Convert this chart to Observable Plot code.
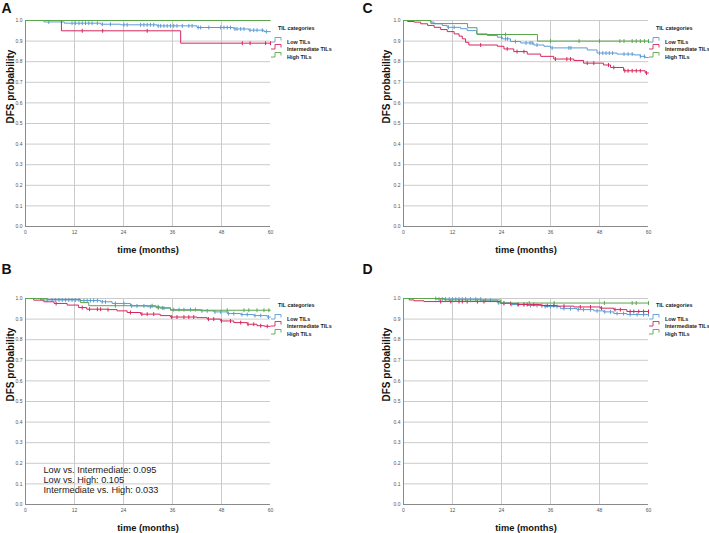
<!DOCTYPE html>
<html><head><meta charset="utf-8">
<script src="https://cdn.jsdelivr.net/npm/d3@7"></script>
<script src="https://cdn.jsdelivr.net/npm/@observablehq/plot@0.6"></script>
<style>
html,body{margin:0;padding:0;background:#fff;}
#root{position:relative;width:709px;height:533px;overflow:hidden;font-family:"Liberation Sans",Arial,sans-serif;background:#fff;}
.panel{position:absolute;}
.legend{position:absolute;font-size:5.4px;font-weight:bold;color:#222;white-space:nowrap;}
.legend div{position:absolute;white-space:nowrap;line-height:6px;}
.legend svg{position:absolute;overflow:visible;}
</style></head><body><div id="root"></div>
<script>
// ---------- data ----------
const xTicks = [0, 12, 24, 36, 48, 60];
const yTicks = [0, 0.1, 0.2, 0.3, 0.4, 0.5, 0.6, 0.7, 0.8, 0.9, 1.0];
const groupNames = ["Low TILs", "Intermediate TILs", "High TILs"];
const legendTitle = "TIL categories";
const panelLetters = ["A", "B", "C", "D"];
const yLabel = "DFS probability";
const xLabel = "time (months)";
const pValueLines = ["Low vs. Intermediate: 0.095", "Low vs. High: 0.105", "Intermediate vs. High: 0.033"];

// Panel A
const A_low_t = [0, 4.5, 9.5, 18.4, 23.3, 32.2, 42, 51, 54.7, 58.4, 60];
const A_low_s = [1, 0.993, 0.987, 0.982, 0.979, 0.974, 0.966, 0.959, 0.953, 0.946, 0.946];
const A_low_c = [5.7, 8.8, 11.4, 12.2, 13.1, 13.9, 14.7, 15.5, 16.3, 17.6, 18.8, 20.8, 24.1, 24.9, 28.2, 29, 29.8, 30.6, 31.4, 32.5, 33.1, 33.9, 34.7, 35.5, 36.3, 37.1, 38.4, 40, 40.8, 42.3, 42.9, 44.9, 47.8, 48.6, 49.4, 50.2, 51.3, 51.8, 52.7, 53.5, 55, 55.9, 56.7, 58, 59];
const A_int_t = [0, 8.8, 38, 60];
const A_int_s = [1, 0.95, 0.89, 0.89];
const A_int_c = [13.9, 18.9, 29.8, 53.1, 55, 58.8, 60];
const A_high_t = [0, 60];
const A_high_s = [1, 1];
const A_high_c = [];

// Panel B
const B_low_t = [0, 3.7, 13.5, 18.4, 21.2, 25.7, 29.8, 33, 35.5, 42.9, 46.1, 49.4, 52.7, 55.9, 59.2, 60];
const B_low_s = [1, 0.993, 0.99, 0.984, 0.976, 0.964, 0.96, 0.953, 0.946, 0.94, 0.935, 0.927, 0.922, 0.917, 0.91, 0.91];
const B_low_c = [5.3, 6.5, 7.3, 8.2, 9, 9.8, 10.6, 11.4, 12.2, 13.1, 14.3, 15.1, 15.9, 16.7, 17.6, 18.8, 19.6, 22, 24.1, 26, 27.3, 29, 30.6, 32.5, 33.9, 36.3, 37.6, 38.8, 40.4, 41.6, 43.2, 44.5, 46.4, 47.8, 49.7, 51, 53, 54.3, 56.2, 57.6, 59.5];
const B_int_t = [0, 2, 4.5, 7, 10.2, 13, 15, 20, 22.4, 24.9, 28.2, 33, 35.5, 42, 44.5, 47.8, 51, 54.3, 56.7, 58.5, 60];
const B_int_s = [1, 0.992, 0.984, 0.976, 0.968, 0.956, 0.948, 0.946, 0.94, 0.932, 0.924, 0.917, 0.91, 0.907, 0.9, 0.891, 0.883, 0.875, 0.868, 0.865, 0.865];
const B_int_c = [7.5, 13.9, 15.7, 17.6, 18.4, 20.2, 25.7, 28.5, 29.8, 31.4, 35.8, 37.1, 38.8, 40, 41.2, 44.8, 46.1, 48, 50.2, 52.7, 54.5, 55.9, 57.6, 59.2];
const B_high_t = [0, 5.3, 13.5, 15.5, 32, 35.5, 60];
const B_high_s = [1, 0.995, 0.98, 0.965, 0.955, 0.943, 0.943];
const B_high_c = [22, 31, 32.5, 33.5, 49.4, 53.5, 54.7, 56.7, 58.4, 59.6];

// Panel C
const C_low_t = [0, 6.7, 7.5, 9.5, 10.7, 14, 15.6, 17.9, 20.5, 23, 24.2, 26.2, 28.7, 31.9, 34.4, 36, 45, 47.4, 52.3, 56.4, 58, 59.2, 60];
const C_low_s = [1, 0.992, 0.984, 0.976, 0.967, 0.96, 0.951, 0.935, 0.927, 0.919, 0.911, 0.898, 0.891, 0.881, 0.875, 0.867, 0.857, 0.842, 0.837, 0.833, 0.826, 0.82, 0.82];
const C_low_c = [11, 12.4, 24, 25, 25.5, 27.4, 30, 31, 31.5, 32.7, 36.4, 40.5, 41, 48, 48.8, 49.6, 50.4, 51.2, 54, 55, 56, 58, 59];
const C_int_t = [0, 1, 2.6, 4.2, 5.9, 7.5, 9.1, 10.7, 12.4, 13.6, 14.4, 15.2, 16, 23, 24.6, 27, 30.3, 33.6, 36.8, 41.7, 44.1, 49, 50.7, 53.9, 59.2, 60];
const C_int_s = [1, 0.995, 0.992, 0.984, 0.976, 0.967, 0.956, 0.946, 0.935, 0.924, 0.911, 0.894, 0.881, 0.875, 0.862, 0.849, 0.837, 0.826, 0.813, 0.806, 0.793, 0.784, 0.772, 0.756, 0.745, 0.745];
const C_int_c = [18.9, 25.4, 27.8, 29.5, 37.2, 40, 40.9, 45, 46.6, 50.2, 51.5, 54.2, 55, 56, 57, 58, 59.5];
const C_high_t = [0, 6.7, 15.7, 18, 32.8, 60];
const C_high_s = [1, 0.985, 0.965, 0.932, 0.9, 0.9];
const C_high_c = [25, 36, 43, 48, 53, 54, 56, 57, 58, 59, 60];

// Panel D
const D_low_t = [0, 8, 19, 23, 26.2, 30.3, 34.4, 38.4, 42.5, 46.6, 49, 51.5, 54.7, 60];
const D_low_s = [1, 0.997, 0.992, 0.979, 0.971, 0.966, 0.961, 0.951, 0.946, 0.94, 0.935, 0.927, 0.922, 0.922];
const D_low_c = [7.9, 8.7, 9.5, 10.3, 11.2, 12, 12.8, 13.6, 14.4, 15.2, 16.4, 17.7, 18.9, 20.1, 21.3, 23.3, 24.6, 26.5, 27.9, 29.5, 31.1, 32.7, 34.7, 36, 37.6, 39.3, 40.9, 42.8, 44.1, 45.8, 47.4, 49.3, 50.7, 52.3, 53.9, 55.5, 57.2, 58.8, 60];
const D_int_t = [0, 1.4, 2.6, 5, 23.8, 27.9, 33.6, 37.6, 41.7, 48.2, 51.5, 54.7, 60];
const D_int_s = [1, 0.993, 0.989, 0.985, 0.976, 0.971, 0.966, 0.963, 0.959, 0.953, 0.946, 0.937, 0.937];
const D_int_c = [9.1, 11.6, 13.6, 14.4, 15.6, 18.1, 19.7, 24.6, 26.2, 28.2, 29.5, 30.3, 31.9, 33.9, 35.2, 36.8, 39.3, 43.3, 45.8, 48.5, 51.8, 53.1, 55.5, 56.4, 57.6, 58.8, 60];
const D_high_t = [0, 10, 23.8, 60];
const D_high_s = [1, 0.993, 0.978, 0.978];
const D_high_c = [30.8, 36.9, 49.2, 56, 57, 60];

// ---------- helpers ----------
const colors = ["#5B9BD5", "#D6275C", "#5AA64C"];
function stepAt(t, s, x) { let v = s[0]; for (let i = 0; i < t.length; i++) if (t[i] <= x) v = s[i]; return v; }
function rows(t, s) { return t.map((d, i) => ({t: d, s: s[i]})); }
function cens(c, t, s) { return c.map(d => ({t: d, s: stepAt(t, s, d)})); }
const tickSym = { draw(ctx, size) { const r = Math.sqrt(size) / 2; ctx.moveTo(0, -r); ctx.lineTo(0, r); } };

const panels = [
  {letter: panelLetters[0], groups: [[A_low_t, A_low_s, A_low_c], [A_int_t, A_int_s, A_int_c], [A_high_t, A_high_s, A_high_c]],
   left: 0, top: 0, h: 265, ml: 25, mr: 84, mt: 20, mb: 39, letterDx: -24, letterDy: -17, labelDx: -15, pv: false, legX: 270, legY: 28},
  {letter: panelLetters[1], groups: [[B_low_t, B_low_s, B_low_c], [B_int_t, B_int_s, B_int_c], [B_high_t, B_high_s, B_high_c]],
   left: 0, top: 260, h: 273, ml: 25, mr: 84, mt: 38, mb: 29, letterDx: -24, letterDy: -34, labelDx: -15, pv: true, legX: 270, legY: 305},
  {letter: panelLetters[2], groups: [[C_low_t, C_low_s, C_low_c], [C_int_t, C_int_s, C_int_c], [C_high_t, C_high_s, C_high_c]],
   left: 355, top: 0, h: 265, ml: 48, mr: 61, mt: 20, mb: 39, letterDx: -41, letterDy: -17, labelDx: -17, pv: false, legX: 648, legY: 28},
  {letter: panelLetters[3], groups: [[D_low_t, D_low_s, D_low_c], [D_int_t, D_int_s, D_int_c], [D_high_t, D_high_s, D_high_c]],
   left: 355, top: 260, h: 273, ml: 48, mr: 61, mt: 38, mb: 29, letterDx: -41, letterDy: -34, labelDx: -17, pv: false, legX: 648, legY: 305}
];

const root = document.getElementById("root");

for (const p of panels) {
  const marks = [
    Plot.ruleY(yTicks, {stroke: "#cbcbcb", strokeWidth: 1}),
    Plot.ruleX(xTicks.slice(1, -1), {stroke: "#cbcbcb", strokeWidth: 1}),
    Plot.ruleY([0], {stroke: "#8a8a8a", strokeWidth: 1}),
    Plot.ruleX([0], {stroke: "#8a8a8a", strokeWidth: 1})
  ];
  p.groups.forEach(([t, s, c], i) => {
    marks.push(Plot.line(rows(t, s), {x: "t", y: "s", curve: "step-after", stroke: colors[i], strokeWidth: 1}));
    marks.push(Plot.dot(cens(c, t, s), {x: "t", y: "s", symbol: tickSym, r: 2.2, stroke: colors[i], strokeWidth: 1, fill: "none"}));
  });
  marks.push(Plot.text([p.letter], {frameAnchor: "top-left", dx: p.letterDx, dy: p.letterDy, textAnchor: "start", lineAnchor: "top", fontSize: 14, fontWeight: "bold", fill: "#111"}));
  marks.push(Plot.text([yLabel], {frameAnchor: "left", dx: p.labelDx, rotate: -90, fontSize: 10, fontWeight: "bold", fill: "#111"}));
  marks.push(Plot.text([xLabel], {frameAnchor: "bottom", dy: 26, fontSize: 9.3, fontWeight: "bold", fill: "#111"}));
  if (p.pv) {
    marks.push(Plot.text([pValueLines.join("\n")], {frameAnchor: "bottom-left", dx: 18, dy: -39, textAnchor: "start", lineAnchor: "top", lineHeight: 1.12, fontSize: 9.2, fill: "#222"}));
  }
  const chart = Plot.plot({
    width: 354, height: p.h,
    marginLeft: p.ml, marginRight: p.mr, marginTop: p.mt, marginBottom: p.mb,
    style: {fontFamily: "Liberation Sans, Arial, sans-serif", fontSize: "5px", color: "#555", background: "transparent", overflow: "visible"},
    x: {domain: [0, 60], ticks: xTicks, tickSize: 0, tickPadding: 4, label: null},
    y: {domain: [0, 1], ticks: yTicks, tickSize: 0, tickPadding: 3, tickFormat: d3.format(".1f"), label: null},
    marks
  });
  const div = document.createElement("div");
  div.className = "panel";
  div.style.left = p.left + "px";
  div.style.top = p.top + "px";
  div.appendChild(chart);
  root.appendChild(div);

  // legend
  const leg = document.createElement("div");
  leg.className = "legend";
  leg.style.left = p.legX + "px";
  leg.style.top = (p.legY - 3) + "px";
  const title = document.createElement("div");
  title.textContent = legendTitle;
  title.style.left = "8px"; title.style.top = "0px";
  leg.appendChild(title);
  groupNames.forEach((name, i) => {
    const yy = 14 + i * 7.4;
    const ns = "http://www.w3.org/2000/svg";
    const svg = document.createElementNS(ns, "svg");
    svg.setAttribute("width", "12"); svg.setAttribute("height", "6");
    svg.style.left = "1px"; svg.style.top = (yy - 2) + "px";
    const path = document.createElementNS(ns, "path");
    path.setAttribute("d", "M0,5 H4 V0.5 H10 V3.5");
    path.setAttribute("fill", "none");
    path.setAttribute("stroke", colors[i]);
    path.setAttribute("stroke-width", "0.9");
    svg.appendChild(path);
    leg.appendChild(svg);
    const tx = document.createElement("div");
    tx.textContent = name;
    tx.style.left = "17px"; tx.style.top = yy + "px";
    leg.appendChild(tx);
  });
  root.appendChild(leg);
}
</script></body></html>
